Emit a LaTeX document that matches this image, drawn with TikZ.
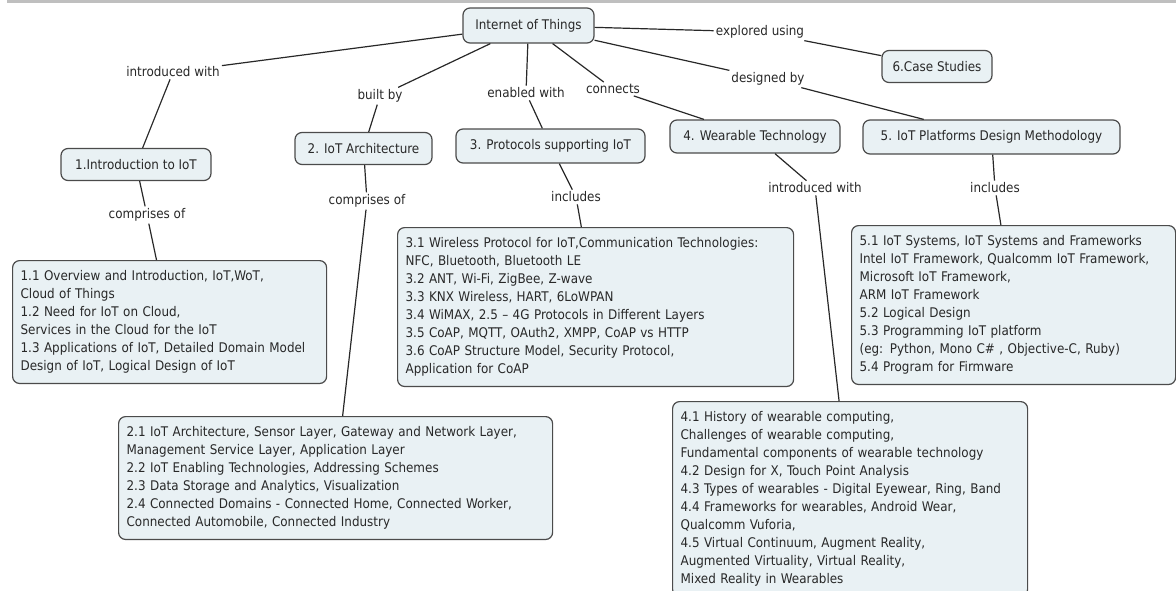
\documentclass[tikz,border=0pt]{standalone}
\usepackage{fontspec}
\setmainfont{DejaVu Sans Condensed}
\usepackage{xcolor}
\usepackage{tikz}
\usetikzlibrary{positioning}
\definecolor{boxfill}{RGB}{233,241,244}
\definecolor{boxline}{RGB}{75,75,75}
\definecolor{ink}{RGB}{40,40,40}
\newcommand{\mapfont}{\fontsize{13.3}{18}\selectfont}

\begin{document}
\begin{tikzpicture}[x=1pt,y=-1pt,
    topic/.style={draw=boxline,fill=boxfill,rounded corners=7pt,line width=1.2pt,
        inner sep=2pt,minimum height=32pt,font=\mapfont,text=ink},
    detail/.style={topic,anchor=north west,align=left,inner xsep=8pt,inner ysep=10pt},
    link/.style={font=\mapfont,text=ink,inner sep=2pt},
    line/.style={draw=ink,line width=1.2pt}
]
\useasboundingbox (0,0) rectangle (1176,590);
\clip (0,0) rectangle (1176,590);
\fill[gray!50] (7,0) rectangle (1176,3);

\node[topic,minimum width=131pt,minimum height=35pt] (root) at (528.5,25.5) {Internet of Things};
\node[topic,minimum width=110pt] (cases) at (937,66.5) {6.Case Studies};
\node[topic,minimum width=150pt] (intro) at (136,164.5) {1.Introduction to IoT};
\node[topic,minimum width=137pt] (arch) at (363.5,148.5) {2. IoT Architecture};
\node[topic,minimum width=189pt,minimum height=34pt] (proto) at (550.5,146) {3. Protocols supporting IoT};
\node[topic,minimum width=170pt,minimum height=33pt] (wear) at (755,136.5) {4. Wearable Technology};
\node[topic,minimum width=257pt,minimum height=34pt] (plat) at (991.5,137) {5. IoT Platforms Design Methodology};

\node[link] (l-intro) at (173,72) {introduced with};
\node[link] (l-built) at (380,96) {built by};
\node[link] (l-enabled) at (526,93) {enabled with};
\node[link] (l-connects) at (613,89) {connects};
\node[link] (l-designed) at (768,79) {designed by};
\node[link] (l-explored) at (760,32) {explored using};
\node[link] (l-comp1) at (147,215) {comprises of};
\node[link] (l-comp2) at (367,201) {comprises of};
\node[link] (l-incl3) at (576,197) {includes};
\node[link] (l-intro4) at (815,188) {introduced with};
\node[link] (l-incl5) at (995,188) {includes};

\node[detail,text width=298pt] (intro-list) at (12,260) {1.1 Overview and Introduction, IoT,WoT,\\
Cloud of Things\\
1.2 Need for IoT on Cloud,\\
Services in the Cloud for the IoT\\
1.3 Applications of IoT, Detailed Domain Model\\
Design of IoT, Logical Design of IoT};
\node[detail,text width=380pt] (proto-list) at (397,227) {3.1 Wireless Protocol for IoT,Communication Technologies:\\
NFC, Bluetooth, Bluetooth LE\\
3.2 ANT, Wi-Fi, ZigBee, Z-wave\\
3.3 KNX Wireless, HART, 6LoWPAN\\
3.4 WiMAX, 2.5 -- 4G Protocols in Different Layers\\
3.5 CoAP, MQTT, OAuth2, XMPP, CoAP vs HTTP\\
3.6 CoAP Structure Model, Security Protocol,\\
Application for CoAP};
\node[detail,text width=308pt] (plat-list) at (851,225) {5.1 IoT Systems, IoT Systems and Frameworks\\
Intel IoT Framework, Qualcomm IoT Framework,\\
Microsoft IoT Framework,\\
ARM IoT Framework\\
5.2 Logical Design\\
5.3 Programming IoT platform\\
(eg: Python, Mono C\# , Objective-C, Ruby)\\
5.4 Program for Firmware};
\node[detail,text width=418pt] (arch-list) at (118,416) {2.1 IoT Architecture, Sensor Layer, Gateway and Network Layer,\\
Management Service Layer, Application Layer\\
2.2 IoT Enabling Technologies, Addressing Schemes\\
2.3 Data Storage and Analytics, Visualization\\
2.4 Connected Domains - Connected Home, Connected Worker,\\
Connected Automobile, Connected Industry};
\node[detail,text width=339pt] (wear-list) at (672,401) {4.1 History of wearable computing,\\
Challenges of wearable computing,\\
Fundamental components of wearable technology\\
4.2 Design for X, Touch Point Analysis\\
4.3 Types of wearables - Digital Eyewear, Ring, Band\\
4.4 Frameworks for wearables, Android Wear,\\
Qualcomm Vuforia,\\
4.5 Virtual Continuum, Augment Reality,\\
Augmented Virtuality, Virtual Reality,\\
Mixed Reality in Wearables};

\draw[line] (root) -- (l-intro) -- (intro) -- (l-comp1) -- (intro-list);
\draw[line] (root) -- (l-built) -- (arch) -- (l-comp2) -- (arch-list);
\draw[line] (root) -- (l-enabled) -- (proto) -- (l-incl3) -- (proto-list);
\draw[line] (root) -- (l-connects) -- (wear) -- (l-intro4) -- (wear-list);
\draw[line] (root) -- (l-designed) -- (plat) -- (l-incl5) -- (plat-list);
\draw[line] (root) -- (l-explored) -- (cases);

\end{tikzpicture}
\end{document}
